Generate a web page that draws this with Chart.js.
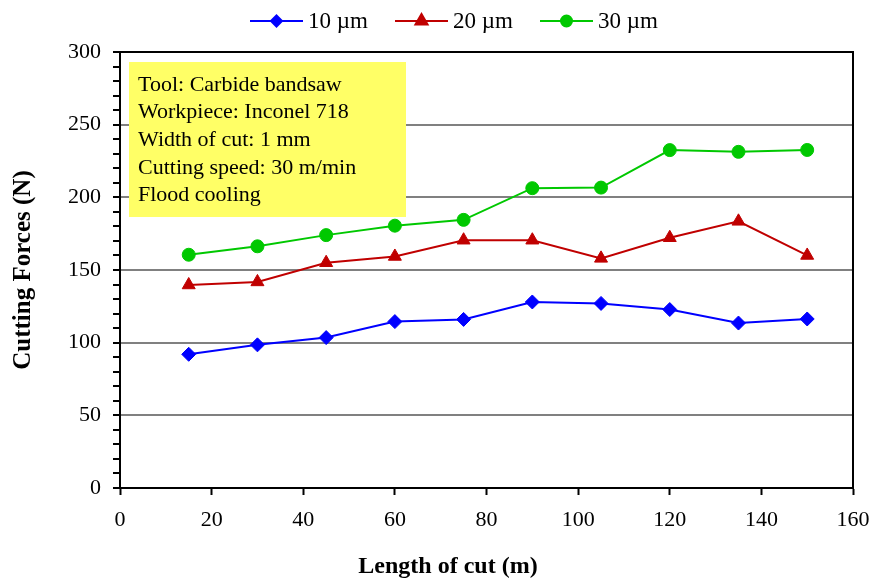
<!DOCTYPE html>
<html>
<head>
<meta charset="utf-8">
<script src="https://cdn.jsdelivr.net/npm/chart.js@4.4.0/dist/chart.umd.min.js"></script>
<style>
  html, body { margin: 0; padding: 0; background: #fff; }
  #wrap { width: 880px; height: 584px; }
</style>
</head>
<body>
<div id="wrap"><canvas id="forceChart" width="880" height="584"></canvas></div>
<script>
// Length of cut (m)
const lengths = [15, 30, 45, 60, 75, 90, 105, 120, 135, 150];
// Cutting forces (N)
const force10 = [92, 98.5, 103.5, 114.5, 116, 128, 127, 122.8, 113.5, 116.3];
const force20 = [139.7, 141.8, 155, 159.3, 170.5, 170.5, 158, 172.2, 183.5, 160];
const force30 = [160.5, 166.3, 174, 180.5, 184.5, 206.3, 206.7, 232.5, 231.3, 232.6];
const seriesNames = ['10 µm', '20 µm', '30 µm'];
const infoLines = ['Tool: Carbide bandsaw', 'Workpiece: Inconel 718', 'Width of cut: 1 mm', 'Cutting speed: 30 m/min', 'Flood cooling'];

const SERIF = '"Liberation Serif", "Times New Roman", serif';
const colors = ['#0000FF', '#C00000', '#00C800'];
const styles = ['rectRot', 'triangle', 'circle'];
const radii = [7, 7.5, 6.5];
const legendRadii = [5.5, 7, 5.5];

function toPoints(ys) {
  return lengths.map((x, i) => ({ x: x, y: ys[i] }));
}

// frame, info box, x title and legend drawn on the canvas
const decorations = {
  id: 'decorations',
  beforeDatasetsDraw(chart) {
    const { ctx, chartArea: a } = chart;
    ctx.save();
    // yellow info box
    ctx.fillStyle = '#FFFF66';
    ctx.fillRect(129, 62, 277, 155);
    ctx.fillStyle = '#000';
    ctx.font = '22px ' + SERIF;
    ctx.textBaseline = 'middle';
    ctx.textAlign = 'left';
    infoLines.forEach((t, i) => ctx.fillText(t, 138, 85 + i * 27.6));
    // plot frame
    ctx.strokeStyle = '#000';
    ctx.lineWidth = 2;
    ctx.strokeRect(a.left, a.top, a.right - a.left, a.bottom - a.top);
    ctx.restore();
  },
  afterDraw(chart) {
    const { ctx } = chart;
    ctx.save();
    // x axis title
    ctx.fillStyle = '#000';
    ctx.font = 'bold 24px ' + SERIF;
    ctx.textAlign = 'center';
    ctx.textBaseline = 'middle';
    ctx.fillText('Length of cut (m)', 448, 567);
    // legend
    const starts = [250, 395, 540];
    ctx.font = '23px ' + SERIF;
    ctx.textAlign = 'left';
    starts.forEach((x0, i) => {
      ctx.strokeStyle = colors[i];
      ctx.lineWidth = 2;
      ctx.beginPath();
      ctx.moveTo(x0, 21);
      ctx.lineTo(x0 + 53, 21);
      ctx.stroke();
      ctx.fillStyle = colors[i];
      Chart.helpers.drawPoint(ctx, { pointStyle: styles[i], radius: legendRadii[i], borderWidth: 1 }, x0 + 26.5, 21);
      ctx.fill();
      ctx.fillStyle = '#000';
      ctx.fillText(seriesNames[i], x0 + 58, 22);
    });
    ctx.restore();
  }
};

const datasets = [force10, force20, force30].map((vals, i) => ({
  label: seriesNames[i],
  data: toPoints(vals),
  borderColor: colors[i],
  backgroundColor: colors[i],
  borderWidth: 2,
  pointStyle: styles[i],
  pointRadius: radii[i],
  pointBorderWidth: 1,
  tension: 0
}));

new Chart(document.getElementById('forceChart').getContext('2d'), {
  type: 'line',
  data: { datasets: datasets },
  options: {
    responsive: false,
    animation: false,
    layout: { padding: { left: 0, top: 52, right: 27, bottom: 0 } },
    plugins: { legend: { display: false }, tooltip: { enabled: false } },
    scales: {
      x: {
        type: 'linear',
        min: 0,
        max: 160,
        ticks: { stepSize: 20, color: '#000', font: { family: SERIF, size: 22 }, padding: 12, maxRotation: 0 },
        grid: { drawOnChartArea: false, tickColor: '#000', tickLength: 7, tickWidth: 2 },
        border: { color: '#000', width: 2 },
        afterFit(scale) {
          scale.height = 96;
          scale.paddingRight = 0;
          scale.paddingLeft = 0;
        }
      },
      y: {
        min: 0,
        max: 300,
        ticks: {
          stepSize: 10,
          autoSkip: false,
          color: '#000',
          font: { family: SERIF, size: 22 },
          padding: 12,
          callback: (v) => (v % 50 === 0 ? v : '')
        },
        grid: {
          color: (c) => (c.tick && c.tick.value % 50 === 0 && c.tick.value > 0 && c.tick.value < 300) ? '#808080' : 'rgba(0,0,0,0)',
          lineWidth: 2,
          tickColor: '#000',
          tickLength: 7,
          tickWidth: 2
        },
        border: { color: '#000', width: 2 },
        title: {
          display: true,
          text: 'Cutting Forces (N)',
          color: '#000',
          font: { family: SERIF, size: 25, weight: 'bold' },
          padding: { top: 9, bottom: 0 }
        },
        afterFit(scale) { scale.width = 120; }
      }
    }
  },
  plugins: [decorations]
});
</script>
</body>
</html>
